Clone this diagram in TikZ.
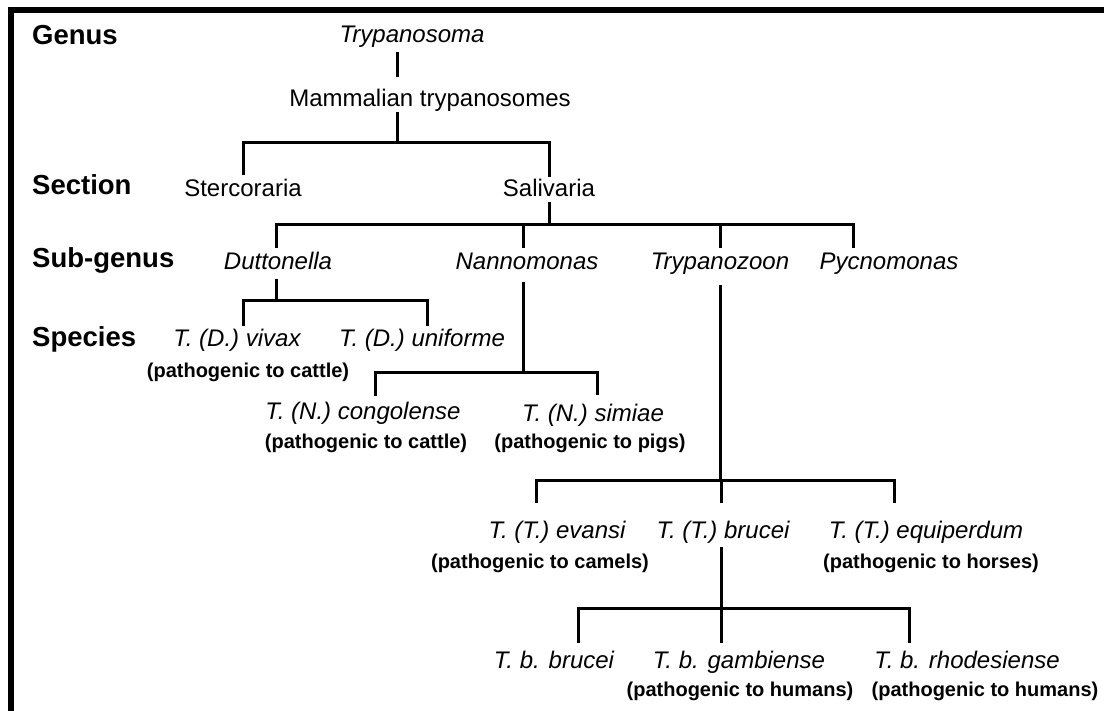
\documentclass[tikz,border=0pt]{standalone}
\usepackage{fontspec}
\setmainfont{Liberation Sans}
\usepackage{tikz}
\usetikzlibrary{calc}

\tikzset{
  rank/.style={font=\fontsize{27.5}{30}\selectfont\bfseries, anchor=base west, inner sep=0pt},
  taxon/.style={font=\fontsize{24}{28}\selectfont, anchor=base, inner sep=0pt, text height=17pt, text depth=5pt},
  itaxon/.style={taxon, font=\fontsize{24}{28}\selectfont\itshape},
  host/.style={font=\fontsize{20}{24}\selectfont\bfseries, anchor=base, inner sep=0pt},
  branch/.style={line width=3pt},
}

\begin{document}
\begin{tikzpicture}[x=1pt, y=-1pt]
          \useasboundingbox (0,0) rectangle (1104,711);
          \fill (8,7) rectangle (1104,13);
          \fill (8,7) rectangle (14,711);

          \node[rank] (genus) at (32,45) {Genus};
          \node[rank] (section) at (32,195) {Section};
          \node[rank] (subgenus) at (32,268) {Sub-genus};
          \node[rank] (species) at (32,347) {Species};

          \node[itaxon] (tryp) at (412,43) {Trypanosoma};
          \node[taxon] (mamm) at (430,107) {Mammalian trypanosomes};
          \node[taxon] (sterc) at (243,197) {Stercoraria};
          \node[taxon] (saliv) at (549,197) {Salivaria};
          \node[itaxon] (dutt) at (278,270) {Duttonella};
          \node[itaxon] (nann) at (527,270) {Nannomonas};
          \node[itaxon] (tryz) at (720,270) {Trypanozoon};
          \node[itaxon] (pycn) at (889,270) {Pycnomonas};
          \node[itaxon] (vivax) at (237,347) {T. (D.) vivax};
          \node[itaxon] (unif) at (422,347) {T. (D.) uniforme};
          \node[host] (vivaxH) at (248,378) {(pathogenic to cattle)};
          \node[itaxon] (cong) at (363,420) {T. (N.) congolense};
          \node[itaxon] (simi) at (593,421) {T. (N.) simiae};
          \node[host] (congH) at (366,449) {(pathogenic to cattle)};
          \node[host] (simiH) at (590,449) {(pathogenic to pigs)};
          \node[itaxon] (evan) at (557,538) {T. (T.) evansi};
          \node[itaxon] (bruc) at (723,538) {T. (T.) brucei};
          \node[itaxon] (equi) at (926,538) {T. (T.) equiperdum};
          \node[host] (evanH) at (540,568) {(pathogenic to camels)};
          \node[host] (equiH) at (931,568) {(pathogenic to horses)};
          \node[itaxon] (tbb) at (554,668) {T. b. brucei};
          \node[itaxon] (tbg) at (739,668) {T. b. gambiense};
          \node[itaxon] (tbr) at (967,668) {T. b. rhodesiense};
          \node[host] (tbgH) at (740,696) {(pathogenic to humans)};
          \node[host] (tbrH) at (985,696) {(pathogenic to humans)};

          \coordinate (jMamm) at (397,143);
          \coordinate (jSaliv) at (549,225);
          \coordinate (jDutt) at (276,301);
          \coordinate (jNann) at (523,373);
          \coordinate (jTryz) at (720,480);
          \coordinate (jBruc) at (721,608);

          \draw[branch] ($(tryp.south -| jMamm)+(0,-4pt)$) -- ($(mamm.north -| jMamm)+(0,13pt)$);
          \draw[branch] (mamm.south -| jMamm) -- (jMamm);
          \draw[branch] ([yshift=5pt]sterc.north) |- (jMamm);
          \draw[branch] ([yshift=3pt]saliv.north) |- (jMamm);

          \draw[branch] (saliv.south) -- (jSaliv);
          \draw[branch] ([xshift=-2pt,yshift=5pt]dutt.north) |- (jSaliv);
          \draw[branch] ([xshift=-4pt,yshift=5pt]nann.north) |- (jSaliv);
          \draw[branch] ([yshift=5pt]tryz.north) |- (jSaliv);
          \draw[branch] ([xshift=-36pt,yshift=5pt]pycn.north) |- (jSaliv);

          \draw[branch] ($(dutt.south -| jDutt)+(0,-4pt)$) -- (jDutt);
          \draw[branch] ([xshift=6pt,yshift=4pt]vivax.north) |- (jDutt);
          \draw[branch] ([xshift=5pt,yshift=4pt]unif.north) |- (jDutt);

          \draw[branch] ($(nann.south -| jNann)+(0,-7pt)$) -- (jNann);
          \draw[branch] ([xshift=12pt,yshift=7pt]cong.north) |- (jNann);
          \draw[branch] ([xshift=4pt,yshift=9pt]simi.north) |- (jNann);

          \draw[branch] ($(tryz.south -| jTryz)+(0,-10pt)$) -- (jTryz);
          \draw[branch] ([xshift=-21pt,yshift=18pt]evan.north) |- (jTryz);
          \draw[branch] ([xshift=-2pt,yshift=18pt]bruc.north) |- (jTryz);
          \draw[branch] ([xshift=-32pt,yshift=18pt]equi.north) |- (jTryz);

          \draw[branch] ($(bruc.south -| jBruc)+(0,-4pt)$) -- (jBruc);
          \draw[branch] ([xshift=24pt,yshift=8pt]tbb.north) |- (jBruc);
          \draw[branch] ([xshift=-18pt,yshift=8pt]tbg.north) |- (jBruc);
          \draw[branch] ([xshift=-58pt,yshift=8pt]tbr.north) |- (jBruc);
        \end{tikzpicture}
\end{document}
